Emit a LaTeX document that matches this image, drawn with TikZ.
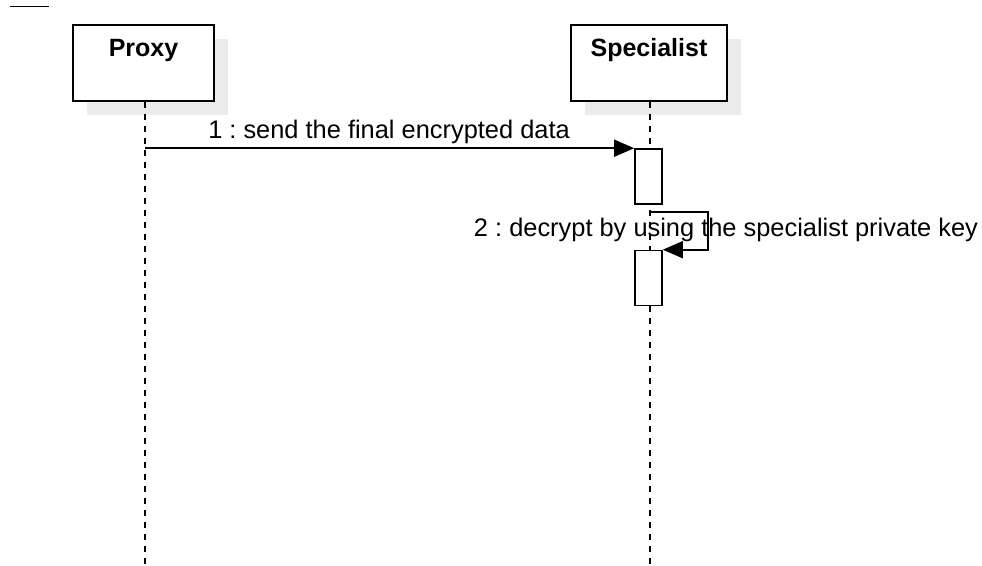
\documentclass[tikz,border=0pt]{standalone}
\usepackage{fontspec}
\setmainfont{Liberation Sans}
\usetikzlibrary{arrows.meta,shadows,calc}
\definecolor{shadowgray}{HTML}{EBEBEB}
\tikzset{
  lifebox/.style={draw, line width=1.8pt, fill=white, minimum width=141pt,
    minimum height=76pt, inner sep=0pt,
    drop shadow={shadow xshift=14pt, shadow yshift=-14pt, fill=shadowgray, opacity=1}},
  lifename/.style={anchor=base, inner sep=0pt, font=\fontsize{25}{30}\selectfont\bfseries},
  lifeline/.style={line width=1.6pt, dash pattern=on 6pt off 6pt},
  activation/.style={draw, line width=1.6pt, fill=white, minimum width=27pt,
    minimum height=55pt, inner sep=0pt},
  msg/.style={line width=1.6pt, -{Triangle[length=20pt,width=17pt]}},
  msglabel/.style={anchor=base, inner sep=0pt, font=\fontsize{25.4}{30}\selectfont\frenchspacing}
}
\begin{document}
\begin{tikzpicture}[x=1pt,y=-1pt]
\useasboundingbox[fill=white] (0,0) rectangle (982,565);

% short rule in the corner
\coordinate (ruleA) at (10,6);
\coordinate (ruleB) at (49,6);
\draw[line width=1pt] (ruleA) -- (ruleB);

% participants
\node[lifebox] (proxy) at (143.5,63) {};
\node[lifebox, minimum width=156pt] (spec) at (649,63) {};
\node[lifename] (proxyname) at (143.5,56) {Proxy};
\node[lifename] (specname) at (649,56) {Specialist};

% lifelines
\coordinate (proxyend) at (145,565);
\coordinate (specend) at (650,565);
\draw[lifeline] (proxy.south -| proxyend) -- (proxyend);
\draw[lifeline] (spec.south -| specend) -- (specend);

% activations
\node[activation] (act1) at (648.5,176.5) {};
\node[activation] (act2) at (648.5,278) {};

% message 1
\draw[msg] (act1.north west -| proxyend) -- (act1.north west);
\node[msglabel] (lbl1) at (389,138) {1 : send the final encrypted data};

% message 2 (self call)
\coordinate (selfstart) at (650,212);
\coordinate (selfcorner) at (708,212);
\node[msglabel] (lbl2) at (726,236) {2 : decrypt by using the specialist private key};
\draw[msg] (selfstart) -- (selfcorner) |- (act2.north east);
\end{tikzpicture}
\end{document}
